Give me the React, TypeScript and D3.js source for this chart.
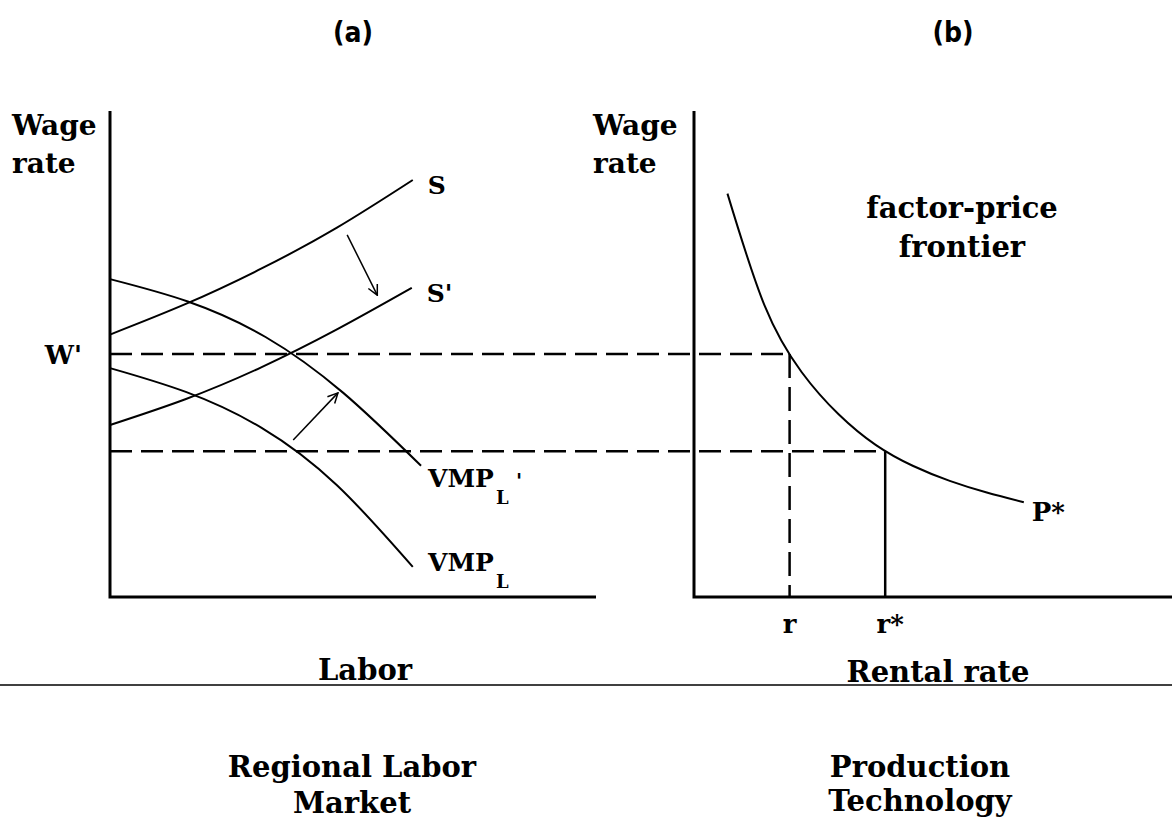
import React from "react"
import * as d3 from "d3"

// curve points: [labor, wage] (left) and [rental, wage] (right), in 0-100 units
const supply = [[0, 54], [15.6, 60.3], [31.2, 67.6], [46.7, 76], [62.3, 85.8]]
const supplyShifted = [[0, 35.4], [15.5, 40.7], [31, 47.2], [46.6, 55], [62.1, 63.6]]
const vmpShifted = [[0, 65.4], [16, 60.8], [32, 53.5], [48, 42], [64, 27]]
const vmp = [[0, 47.1], [15.6, 42.2], [31.2, 34.8], [46.7, 23], [62.3, 6.2]]
const frontier = [[7, 83], [14.75, 60], [22.5, 46.3], [30.25, 37.6], [38, 31.3], [45.75, 27], [53.5, 23.9], [61.25, 21.5], [69, 19.5]]

// shift arrows [from, to]
const arrows = [[[48.8, 74.5], [55, 62.1]], [[37.7, 32.3], [46.9, 42]]]

// equilibria: wage level and the rental rate it maps to
const wageLevels = [50, 30]
const rentalLevels = [20, 40]
const rentalLabels = ["r", "r*"]

const W = 1172
const H = 825

const yW = d3.scaleLinear().domain([0, 100]).range([597, 111])
const xL = d3.scaleLinear().domain([0, 100]).range([110, 596])
const xR = d3.scaleLinear().domain([0, 100]).range([694, 1172])

const font = "'DejaVu Serif', serif"
const headFont = "'DejaVu Sans Condensed', 'Liberation Sans Narrow', 'DejaVu Sans', sans-serif"

export default function App() {
  const lineL = d3.line().x(d => xL(d[0])).y(d => yW(d[1])).curve(d3.curveNatural)
  const lineR = d3.line().x(d => xR(d[0])).y(d => yW(d[1])).curve(d3.curveNatural)

  const end = (arr) => arr[arr.length - 1]
  const curve = { fill: "none", stroke: "#000", strokeWidth: 2 }
  const txt = { fontFamily: font, fontWeight: "bold", fontSize: 29, fill: "#000" }

  return (
    <svg width={W} height={H} style={{ position: "absolute", left: 0, top: 0, background: "#fff" }}>
      <defs>
        <marker id="arr" viewBox="0 0 12 12" refX="11" refY="6" markerWidth="12" markerHeight="12"
          markerUnits="userSpaceOnUse" orient="auto">
          <path d="M1,1 L11,6 L1,11" fill="none" stroke="#000" strokeWidth="1.5" />
        </marker>
      </defs>

      {/* panel titles */}
      <text x={353} y={42} textAnchor="middle" style={{ ...txt, fontFamily: headFont, fontSize: 28, fontStretch: "condensed" }}>(a)</text>
      <text x={953} y={42} textAnchor="middle" style={{ ...txt, fontFamily: headFont, fontSize: 28, fontStretch: "condensed" }}>(b)</text>

      {/* axes */}
      <path d={`M${xL(0)},${yW(100)}V${yW(0)}H${xL(100)}`} fill="none" stroke="#000" strokeWidth={3} />
      <path d={`M${xR(0)},${yW(100)}V${yW(0)}H${xR(100)}`} fill="none" stroke="#000" strokeWidth={3} />

      <text x={12} y={135} style={{ ...txt, fontSize: 28 }}>Wage</text>
      <text x={12} y={173} style={{ ...txt, fontSize: 28 }}>rate</text>
      <text x={593} y={135} style={{ ...txt, fontSize: 28 }}>Wage</text>
      <text x={593} y={173} style={{ ...txt, fontSize: 28 }}>rate</text>

      {/* dashed guides */}
      {wageLevels.map((w, i) => (
        <line key={"h" + i} x1={xL(0)} x2={xR(rentalLevels[i])} y1={yW(w)} y2={yW(w)}
          stroke="#000" strokeWidth={2.5} strokeDasharray="22,9" />
      ))}
      <line x1={xR(rentalLevels[0])} x2={xR(rentalLevels[0])} y1={yW(wageLevels[0])} y2={yW(0)}
        stroke="#000" strokeWidth={2.5} strokeDasharray="24,9" />
      <line x1={xR(rentalLevels[1])} x2={xR(rentalLevels[1])} y1={yW(wageLevels[1])} y2={yW(0)}
        stroke="#000" strokeWidth={2.5} />

      {/* left panel curves */}
      <path d={lineL(supply)} style={curve} />
      <path d={lineL(supplyShifted)} style={curve} />
      <path d={lineL(vmpShifted)} style={curve} />
      <path d={lineL(vmp)} style={curve} />

      {arrows.map((a, i) => (
        <line key={"a" + i} x1={xL(a[0][0])} y1={yW(a[0][1])} x2={xL(a[1][0])} y2={yW(a[1][1])}
          stroke="#000" strokeWidth={1.5} markerEnd="url(#arr)" />
      ))}

      <text x={xL(end(supply)[0]) + 15} y={yW(end(supply)[1]) + 14} style={{ ...txt, fontSize: 25 }}>S</text>
      <text x={xL(end(supplyShifted)[0]) + 15} y={yW(end(supplyShifted)[1]) + 14} style={{ ...txt, fontSize: 25 }}>S'</text>
      <text x={82} y={yW(wageLevels[0]) + 10} textAnchor="end" style={{ ...txt, fontSize: 26 }}>W'</text>

      <text x={428} y={487} style={{ ...txt, fontSize: 25 }}>VMP</text>
      <text x={496} y={504} style={{ ...txt, fontSize: 18 }}>L</text>
      <text x={516} y={488} style={{ ...txt, fontSize: 20 }}>'</text>
      <text x={428} y={571} style={{ ...txt, fontSize: 25 }}>VMP</text>
      <text x={496} y={588} style={{ ...txt, fontSize: 18 }}>L</text>

      {/* right panel */}
      <path d={lineR(frontier)} style={curve} />
      <text x={xR(end(frontier)[0]) + 8} y={521} style={{ ...txt, fontSize: 26 }}>P*</text>
      <text x={962} y={218} textAnchor="middle" style={txt}>factor-price</text>
      <text x={962} y={257} textAnchor="middle" style={txt}>frontier</text>

      {rentalLabels.map((lab, i) => (
        <text key={"r" + i} x={xR(rentalLevels[i]) + (i ? 5 : 0)} y={633} textAnchor="middle" style={{ ...txt, fontSize: 26 }}>
          {lab}
        </text>
      ))}

      {/* axis titles and rule */}
      <text x={365} y={680} textAnchor="middle" style={txt}>Labor</text>
      <text x={938} y={682} textAnchor="middle" style={txt}>Rental rate</text>
      <line x1={0} x2={W} y1={685} y2={685} stroke="#000" strokeWidth={1.5} />

      <text x={352} y={777} textAnchor="middle" style={txt}>Regional Labor</text>
      <text x={352} y={813} textAnchor="middle" style={txt}>Market</text>
      <text x={920} y={777} textAnchor="middle" style={txt}>Production</text>
      <text x={920} y={811} textAnchor="middle" style={txt}>Technology</text>
    </svg>
  )
}
